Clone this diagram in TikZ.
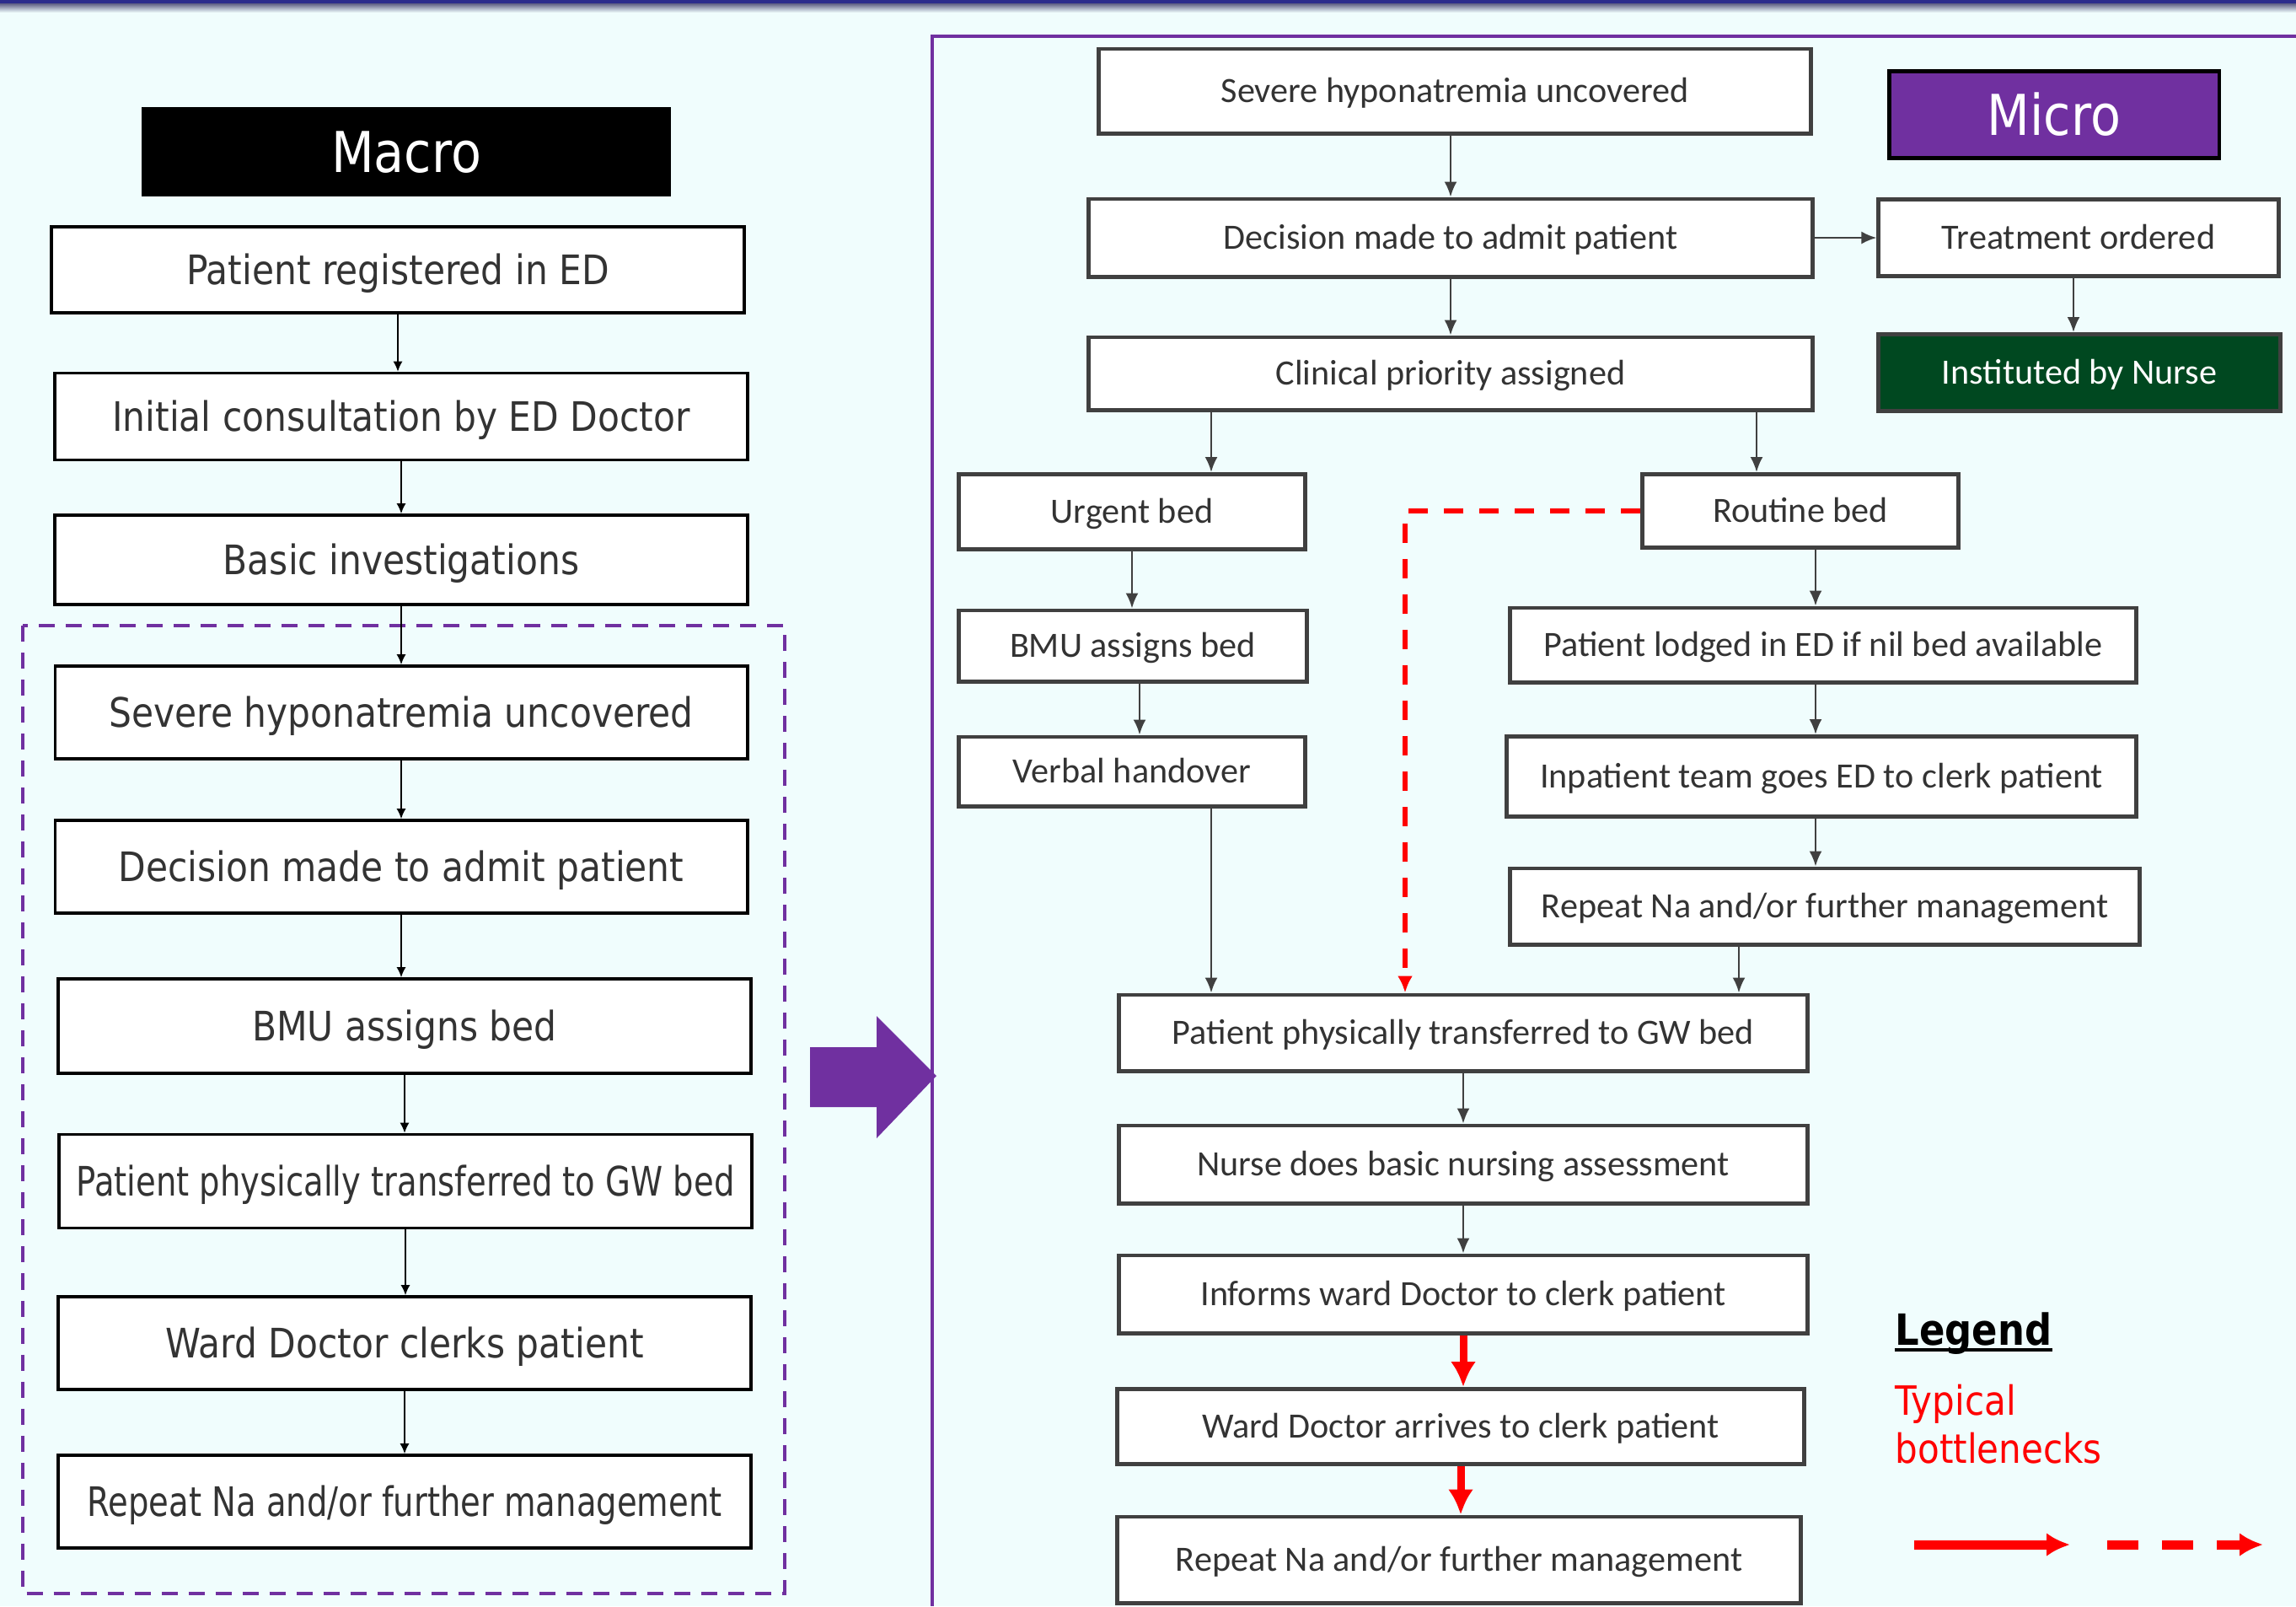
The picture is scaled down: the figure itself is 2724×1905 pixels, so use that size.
\documentclass[tikz,border=0pt]{standalone}
\usepackage{fontspec}
\setmainfont{Carlito}
\newfontfamily\macrofont[FakeStretch=0.88]{DejaVu Sans}
\newfontfamily\macronarrow[FakeStretch=0.8]{DejaVu Sans}
\usetikzlibrary{arrows.meta, calc}
\definecolor{ppPurple}{RGB}{112,48,160}
\definecolor{ppGreen}{RGB}{0,72,32}
\definecolor{ppBack}{RGB}{240,253,253}
\definecolor{ppText}{RGB}{51,51,51}
\definecolor{ppGray}{RGB}{64,64,64}
\definecolor{ppNavy}{RGB}{44,44,140}
\definecolor{ppRed}{RGB}{255,0,0}
\tikzset{
	macroBox/.style={draw=black, line width=1pt, fill=white, text=ppText, inner sep=0pt,
		font=\macrofont\fontsize{13.7}{16}\selectfont, text height=10pt, text depth=0pt,
		minimum width=8.22cm, minimum height=1.08cm},
	narrowText/.style={font=\macronarrow\fontsize{13.7}{16}\selectfont},
	microBox/.style={draw=ppGray, line width=1.4pt, fill=white, text=ppText, inner sep=0pt,
		font=\fontsize{12}{14}\selectfont, text height=7.7pt, text depth=0pt},
	titleBox/.style={inner sep=0pt, text=white, font=\macrofont\fontsize{19}{22}\selectfont,
		text height=13.9pt, text depth=0pt},
	thinArrow/.style={-{Latex[length=0.12cm, width=0.11cm]}, black, line width=0.5pt},
	greyArrow/.style={-{Latex[length=0.18cm, width=0.15cm]}, ppGray, line width=0.7pt},
	redArrow/.style={-{Latex[length=0.3cm, width=0.3cm]}, ppRed, line width=0.09cm},
	redDashArrow/.style={-{Latex[length=0.2cm, width=0.18cm]}, ppRed, line width=0.06cm, dash pattern=on 0.23cm off 0.19cm}
}
\begin{document}
\begin{tikzpicture}[x=0.01cm, y=-0.01cm]
	\useasboundingbox (0,0) rectangle (2724,1905);
	\fill[ppBack] (0,0) rectangle (2724,1905);
	\fill[ppNavy] (0,0) rectangle (2724,4);
	\shade[top color=ppNavy!40!gray, bottom color=ppBack] (0,4) rectangle (2724,15);

	% macro side
	\node[titleBox, fill=black, minimum width=6.28cm, minimum height=1.05cm] (macro) at (482,180) {Macro};
	\node[macroBox, minimum height=1.02cm] (reg) at (472,320) {Patient registered in ED};
	\node[macroBox, minimum height=1.03cm] (cons) at (476,494) {Initial consultation by ED Doctor};
	\node[macroBox, minimum height=1.06cm] (inv) at (476,664) {Basic investigations};
	\draw[ppPurple, line width=0.04cm, dash pattern=on 0.19cm off 0.13cm] (27,742) rectangle (931,1890);
	\node[macroBox, minimum width=8.21cm, minimum height=1.1cm] (sev) at (476,845) {Severe hyponatremia uncovered};
	\node[macroBox, minimum width=8.21cm, minimum height=1.1cm] (dec) at (476,1028) {Decision made to admit patient};
	\node[macroBox, minimum height=1.12cm] (bmu) at (480,1217) {BMU assigns bed};
	\node[macroBox, narrowText, minimum height=1.11cm] (trans) at (481,1401) {Patient physically transferred to GW bed};
	\node[macroBox, minimum height=1.1cm] (ward) at (480,1593) {Ward Doctor clerks patient};
	\node[macroBox, narrowText, minimum height=1.1cm] (rep) at (480,1781) {Repeat Na and/or further management};

	\draw[thinArrow] (reg.south) -- (reg.south |- cons.north);
	\draw[thinArrow] (cons.south) -- (cons.south |- inv.north);
	\draw[thinArrow] (inv.south) -- (inv.south |- sev.north);
	\draw[thinArrow] (sev.south) -- (sev.south |- dec.north);
	\draw[thinArrow] (dec.south) -- (dec.south |- bmu.north);
	\draw[thinArrow] (bmu.south) -- (bmu.south |- trans.north);
	\draw[thinArrow] (trans.south) -- (trans.south |- ward.north);
	\draw[thinArrow] (ward.south) -- (ward.south |- rep.north);

	% big arrow and micro frame
	\fill[ppPurple] (961,1242) -- (1040,1242) -- (1040,1205) -- (1111,1276) -- (1040,1350) -- (1040,1313) -- (961,1313) -- cycle;
	\draw[ppPurple, line width=0.04cm] (1106,1905) -- (1106,43) -- (2724,43);

	% micro side
	\node[titleBox, fill=ppPurple, draw=black, line width=1.2pt, minimum width=3.91cm, minimum height=1.03cm] (micro) at (2437,136) {Micro};
	\node[microBox, minimum width=8.44cm, minimum height=1cm] (msev) at (1726,108) {Severe hyponatremia uncovered};
	\node[microBox, minimum width=8.59cm, minimum height=0.92cm] (mdec) at (1721,282) {Decision made to admit patient};
	\node[microBox, minimum width=4.74cm, minimum height=0.91cm] (treat) at (2466,282) {Treatment ordered};
	\node[microBox, minimum width=8.59cm, minimum height=0.86cm] (clin) at (1721,443) {Clinical priority assigned};
	\node[microBox, fill=ppGreen, text=white, minimum width=4.76cm, minimum height=0.91cm] (inst) at (2467,442) {Instituted by Nurse};
	\node[microBox, minimum width=4.1cm, minimum height=0.89cm] (urg) at (1343,607) {Urgent bed};
	\node[microBox, minimum width=3.74cm, minimum height=0.87cm] (rout) at (2136,606) {Routine bed};
	\node[microBox, minimum width=4.13cm, minimum height=0.84cm] (mbmu) at (1344,766) {BMU assigns bed};
	\node[microBox, minimum width=4.1cm, minimum height=0.82cm] (verb) at (1343,915) {Verbal handover};
	\node[microBox, minimum width=7.42cm, minimum height=0.88cm] (lodg) at (2163,765) {Patient lodged in ED if nil bed available};
	\node[microBox, minimum width=7.46cm, minimum height=0.95cm] (inpt) at (2161,921) {Inpatient team goes ED to clerk patient};
	\node[microBox, minimum width=7.46cm, minimum height=0.9cm] (mrepA) at (2165,1075) {Repeat Na and/or further management};
	\node[microBox, minimum width=8.16cm, minimum height=0.9cm] (mtrans) at (1736,1225) {Patient physically transferred to GW bed};
	\node[microBox, minimum width=8.16cm, minimum height=0.92cm] (nurse) at (1736,1381) {Nurse does basic nursing assessment};
	\node[microBox, minimum width=8.16cm, minimum height=0.92cm] (inform) at (1736,1535) {Informs ward Doctor to clerk patient};
	\node[microBox, minimum width=8.15cm, minimum height=0.89cm] (warr) at (1733,1692) {Ward Doctor arrives to clerk patient};
	\node[microBox, minimum width=8.1cm, minimum height=1.02cm] (mrepB) at (1731,1850) {Repeat Na and/or further management};

	\coordinate (colA) at (1437,0);
	\coordinate (colB) at (2084,0);
	\coordinate (colC) at (2460,0);
	\coordinate (colD) at (1352,0);
	\coordinate (colE) at (2154,0);
	\coordinate (colF) at (2063,0);
	\coordinate (colG) at (1667,0);

	\draw[greyArrow] (mdec.north |- msev.south) -- (mdec.north);
	\draw[greyArrow] (mdec.east) -- (treat.west);
	\draw[greyArrow] (treat.south -| colC) -- (inst.north -| colC);
	\draw[greyArrow] (mdec.south) -- (clin.north);
	\draw[greyArrow] (clin.south -| colA) -- (urg.north -| colA);
	\draw[greyArrow] (clin.south -| colB) -- (rout.north -| colB);
	\draw[greyArrow] (urg.south) -- (urg.south |- mbmu.north);
	\draw[greyArrow] (mbmu.south -| colD) -- (verb.north -| colD);
	\draw[greyArrow] (verb.south -| colA) -- (mtrans.north -| colA);
	\draw[greyArrow] (rout.south -| colE) -- (lodg.north -| colE);
	\draw[greyArrow] (lodg.south -| colE) -- (inpt.north -| colE);
	\draw[greyArrow] (inpt.south -| colE) -- (mrepA.north -| colE);
	\draw[greyArrow] (mrepA.south -| colF) -- (mtrans.north -| colF);
	\draw[redDashArrow] (rout.west) -| (mtrans.north -| colG);
	\draw[greyArrow] (mtrans.south) -- (mtrans.south |- nurse.north);
	\draw[greyArrow] (nurse.south) -- (nurse.south |- inform.north);
	\draw[redArrow] (inform.south) -- (inform.south |- warr.north);
	\draw[redArrow] (warr.south) -- (warr.south |- mrepB.north);

	% legend
	\node[anchor=base west, inner sep=0pt, font=\macrofont\bfseries\fontsize{14.5}{17}\selectfont] (leg) at (2248,1595) {Legend};
	\draw[black, line width=1.1pt] ($(leg.base west)+(0,6)$) -- ($(leg.base east)+(0,6)$);
	\node[anchor=north west, inner sep=0pt, align=left, text=ppRed, font=\macrofont\fontsize{13.6}{16.2}\selectfont] (bottle) at (2248,1641) {Typical\\bottlenecks};
	\coordinate (legA) at (2271,1832);
	\coordinate (legB) at (2456,1832);
	\coordinate (legC) at (2500,1832);
	\coordinate (legD) at (2685,1832);
	\draw[ppRed, line width=0.11cm, -{Latex[length=0.28cm, width=0.28cm]}] (legA) -- (legB);
	\draw[ppRed, line width=0.11cm, dash pattern=on 0.37cm off 0.28cm, -{Latex[length=0.28cm, width=0.28cm]}] (legC) -- (legD);
\end{tikzpicture}
\end{document}
